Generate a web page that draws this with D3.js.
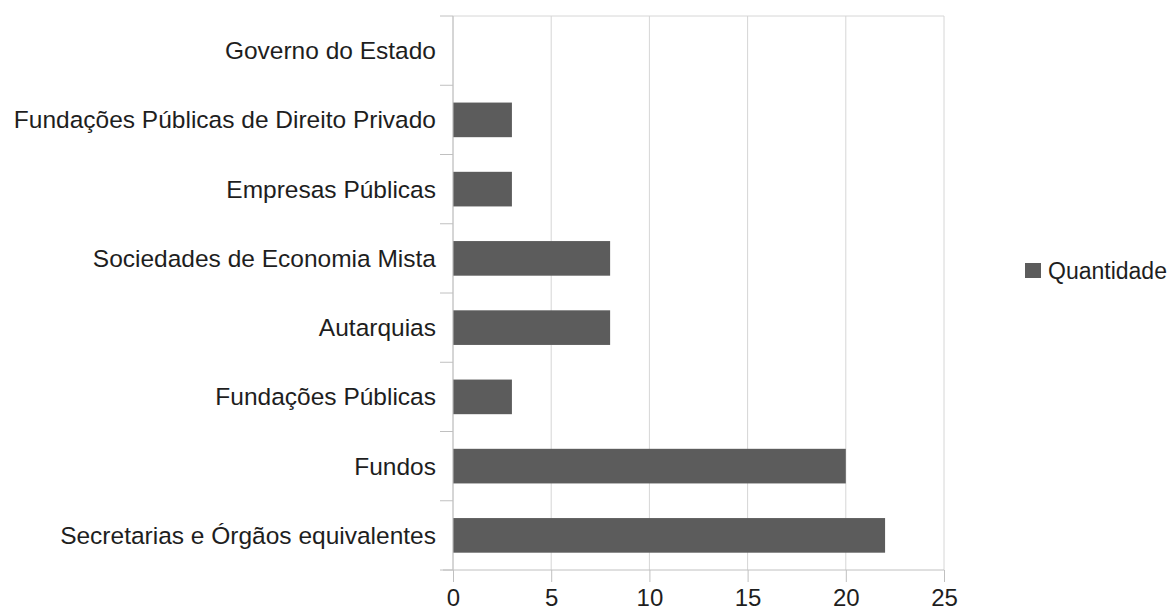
<!DOCTYPE html>
<html>
<head>
<meta charset="utf-8">
<script src="https://cdn.jsdelivr.net/npm/d3@7"></script>
<style>
  body { margin: 0; background: #fff; }
  svg text { font-family: "Liberation Sans", Arial, sans-serif; fill: #1e1e1e; }
</style>
</head>
<body>
<svg id="chart" width="1173" height="614"></svg>
<script>
// data
const categories = [
    "Governo do Estado",
    "Fundações Públicas de Direito Privado",
    "Empresas Públicas",
    "Sociedades de Economia Mista",
    "Autarquias",
    "Fundações Públicas",
    "Fundos",
    "Secretarias e Órgãos equivalentes"
];
const quantidade = [0, 3, 3, 8, 8, 3, 20, 22];
const xTicks = [0, 5, 10, 15, 20, 25];
const seriesName = "Quantidade";

const svg = d3.select("#chart");
const margin = { top: 16, left: 453, right: 229, bottom: 44 };
const w = 1173 - margin.left - margin.right,
    h = 614 - margin.top - margin.bottom;

const g = svg.append("g")
    .attr("transform", `translate(${margin.left},${margin.top})`);

const x = d3.scaleLinear().domain([0, 25]).range([0, w]);
const y = d3.scaleBand().domain(categories).range([0, h]).paddingInner(0.5).paddingOuter(0.25);

// grid
g.selectAll("line.grid")
    .data(xTicks)
    .enter()
    .append("line")
    .attr("class", "grid")
    .attr("x1", d => x(d)).attr("x2", d => x(d))
    .attr("y1", 0).attr("y2", h)
    .attr("stroke", "#d6d6d6");

g.append("line")
    .attr("x1", 0).attr("x2", w)
    .attr("y1", 0).attr("y2", 0)
    .attr("stroke", "#d6d6d6");

// bars
g.selectAll("rect.bar")
    .data(quantidade)
    .enter()
    .append("rect")
    .attr("class", "bar")
    .attr("x", x(0))
    .attr("y", (d, i) => y(categories[i]))
    .attr("width", d => x(d) - x(0))
    .attr("height", y.bandwidth())
    .attr("fill", "#5c5c5c");

// category boundary ticks on the left axis
const bounds = d3.range(categories.length + 1).map(i => i * h / categories.length);
g.selectAll("line.ytick")
    .data(bounds)
    .enter()
    .append("line")
    .attr("x1", -13).attr("x2", 0)
    .attr("y1", d => d).attr("y2", d => d)
    .attr("stroke", "#c0c0c0");

g.append("line")
    .attr("x1", 0).attr("x2", 0)
    .attr("y1", 0).attr("y2", h)
    .attr("stroke", "#c0c0c0");

// category labels
g.selectAll("text.cat")
    .data(categories)
    .enter()
    .append("text")
    .attr("x", -17)
    .attr("y", d => y(d) + y.bandwidth() / 2)
    .attr("dy", "0.35em")
    .attr("text-anchor", "end")
    .style("font-size", "24.5px")
    .text(d => d);

// bottom axis
const xAxis = g.append("g")
    .attr("transform", `translate(0,${h})`)
    .call(d3.axisBottom(x).tickValues(xTicks).tickSize(12).tickPadding(7));
xAxis.select(".domain").attr("stroke", "#c0c0c0").attr("d", `M-10,0H${w}`);
xAxis.selectAll(".tick line").attr("stroke", "#c0c0c0");
xAxis.selectAll(".tick text")
    .style("font-size", "24px")
    .style("font-family", "Liberation Sans, Arial, sans-serif")
    .attr("fill", "#1e1e1e");

// legend
const legend = svg.append("g").attr("transform", "translate(1025,271)");
legend.append("rect")
    .attr("x", 0).attr("y", -8)
    .attr("width", 16).attr("height", 15)
    .attr("fill", "#5c5c5c");
legend.append("text")
    .attr("x", 23).attr("y", 0)
    .attr("dy", "0.35em")
    .style("font-size", "23px")
    .text(seriesName);
</script>
</body>
</html>
